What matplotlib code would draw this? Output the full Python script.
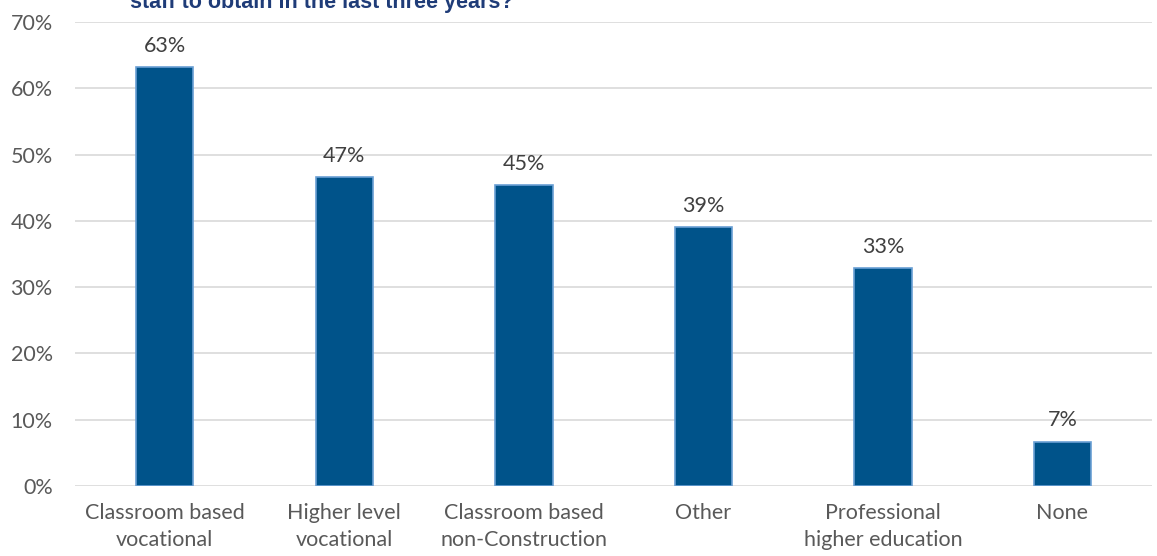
import matplotlib.pyplot as plt
from matplotlib.ticker import PercentFormatter

plt.rcParams['font.family'] = ['Lato', 'DejaVu Sans']

categories = ['Classroom based\nvocational', 'Higher level\nvocational', 'Classroom based\nnon-Construction',
              'Other', 'Professional\nhigher education', 'None']
shares = [0.632, 0.466, 0.454, 0.391, 0.329, 0.067]
title = 'staff to obtain in the last three years?'

fig = plt.figure(figsize=(11.57, 5.56), dpi=100)
ax = fig.add_axes([0.0648, 0.1259, 0.931, 0.8345])

x = range(len(categories))
bars = ax.bar(x, shares, width=0.32, color='#00538A', edgecolor='#6A9FD4', linewidth=1.2, zorder=3)

# value labels above each bar
for b, v in zip(bars, shares):
    ax.text(b.get_x() + b.get_width() / 2, v + 0.017, f'{v:.0%}', ha='center', va='bottom',
            fontsize=15.5, color='#404040')

ax.set_ylim(0, 0.7)
ax.set_xlim(-0.5, len(categories) - 0.5)
ax.set_yticks([i / 10 for i in range(8)])
ax.yaxis.set_major_formatter(PercentFormatter(1.0, decimals=0))
ax.set_xticks(list(x))
ax.set_xticklabels(categories, linespacing=1.45)
ax.tick_params(axis='both', length=0, labelsize=15.5, labelcolor='#595959')
ax.tick_params(axis='x', pad=12)
ax.tick_params(axis='y', pad=16)
ax.grid(axis='y', color='#D9D9D9', linewidth=1.2, zorder=0)
for s in ax.spines.values():
    s.set_visible(False)

fig.text(130 / 1157, 1 - 8 / 556, title, fontsize=15.5, fontweight='bold', color='#1F3C78',
         family='Liberation Sans', ha='left', va='baseline')

fig.savefig('out.png', dpi=100)
